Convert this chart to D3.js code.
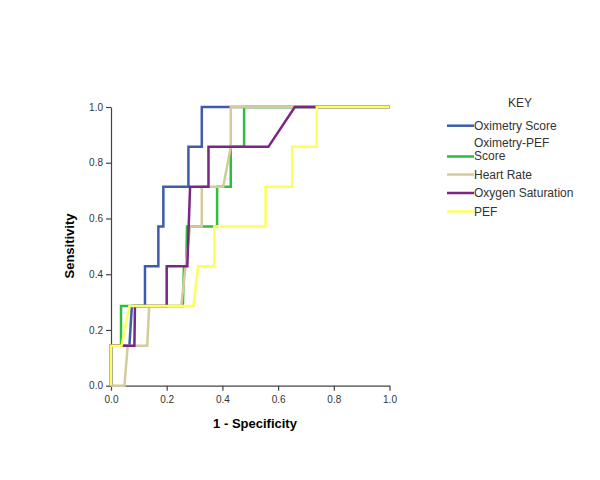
<!DOCTYPE html>
<html>
<head>
<meta charset="utf-8">
<script src="https://cdn.jsdelivr.net/npm/d3@7"></script>
<style>
  body { margin: 0; background: #fff; }
  text { font-family: "Liberation Sans", Arial, sans-serif; }
</style>
</head>
<body>
<div id="app"></div>
<script>
const seriesNames = ["Oximetry Score", "Oximetry-PEF Score", "Heart Rate", "Oxygen Saturation", "PEF"];
const seriesColors = ["#3f5bad", "#2fbd3e", "#d3cb9c", "#7a2683", "#ffff5c"];

// [1 - specificity, sensitivity] points
const oximetryScore = [[0,0],[0,0.143],[0.066,0.143],[0.075,0.286],[0.122,0.286],[0.122,0.429],[0.17,0.429],[0.17,0.571],[0.188,0.571],[0.188,0.714],[0.278,0.714],[0.278,0.857],[0.326,0.857],[0.326,1],[1,1]];
const oximetryPefScore = [[0,0],[0,0.143],[0.036,0.143],[0.036,0.286],[0.258,0.286],[0.262,0.429],[0.27,0.429],[0.273,0.571],[0.381,0.571],[0.381,0.714],[0.43,0.714],[0.43,0.857],[0.478,0.857],[0.478,1],[1,1]];
const heartRate = [[0,0],[0.048,0],[0.06,0.143],[0.13,0.143],[0.137,0.286],[0.252,0.286],[0.284,0.571],[0.326,0.571],[0.326,0.714],[0.403,0.714],[0.43,0.857],[0.43,1],[1,1]];
const oxygenSaturation = [[0,0],[0,0.143],[0.084,0.143],[0.086,0.286],[0.2,0.286],[0.2,0.429],[0.274,0.429],[0.284,0.714],[0.35,0.714],[0.35,0.857],[0.565,0.857],[0.66,1],[1,1]];
const pef = [[0,0],[0,0.143],[0.038,0.143],[0.066,0.286],[0.296,0.286],[0.313,0.429],[0.371,0.429],[0.371,0.571],[0.555,0.571],[0.555,0.714],[0.651,0.714],[0.651,0.857],[0.739,0.857],[0.739,1],[1,1]];

const seriesData = [oximetryScore, oximetryPefScore, heartRate, oxygenSaturation, pef];
const ticks = [0, 0.2, 0.4, 0.6, 0.8, 1.0];

const svg = d3.select("#app").append("svg")
  .attr("width", 600)
  .attr("height", 480);

const x = d3.scaleLinear().domain([0, 1]).range([111, 389.5]);
const y = d3.scaleLinear().domain([0, 1]).range([385.7, 107]);

// axes
const xAxis = svg.append("g")
  .attr("transform", "translate(0,385.7)")
  .call(d3.axisBottom(x).tickValues(ticks).tickFormat(d3.format(".1f")).tickSize(5).tickSizeOuter(0));
const yAxis = svg.append("g")
  .attr("transform", "translate(111,0)")
  .call(d3.axisLeft(y).tickValues(ticks).tickFormat(d3.format(".1f")).tickSize(5).tickSizeOuter(0));

[xAxis, yAxis].forEach(a => {
  a.select(".domain").attr("stroke", "#444").attr("stroke-width", 1.2);
  a.selectAll(".tick line").attr("stroke", "#444").attr("stroke-width", 1.2);
  a.selectAll(".tick text")
    .attr("fill", "#333")
    .style("font-size", "10px")
    .style("font-family", "'Liberation Sans', Arial, sans-serif");
});
xAxis.selectAll(".tick text").attr("dy", "0.9em");

svg.append("text")
  .attr("x", 255).attr("y", 428)
  .attr("text-anchor", "middle")
  .style("font-size", "13px").style("font-weight", "bold")
  .text("1 - Specificity");

svg.append("text")
  .attr("transform", "translate(74,246) rotate(-90)")
  .attr("text-anchor", "middle")
  .style("font-size", "13px").style("font-weight", "bold")
  .text("Sensitivity");

// curves
const line = d3.line().x(d => x(d[0])).y(d => y(d[1]));
svg.selectAll("path.roc")
  .data(seriesData)
  .enter()
  .append("path")
  .attr("class", "roc")
  .attr("d", line)
  .attr("fill", "none")
  .attr("stroke", (d, i) => seriesColors[i])
  .attr("stroke-width", 2.5)
  .attr("stroke-linejoin", "miter");

// legend
svg.append("text")
  .attr("x", 520).attr("y", 107)
  .attr("text-anchor", "middle")
  .attr("fill", "#333")
  .style("font-size", "12px")
  .text("KEY");

const legendY = [125.7, 156.5, 174.5, 193, 211.5];
const legend = svg.selectAll("g.key")
  .data(seriesNames)
  .enter()
  .append("g")
  .attr("class", "key")
  .attr("transform", (d, i) => `translate(447,${legendY[i]})`);

legend.append("line")
  .attr("x1", 0).attr("x2", 27)
  .attr("stroke", (d, i) => seriesColors[i])
  .attr("stroke-width", 2.5);

legend.append("text")
  .attr("x", 27)
  .attr("fill", "#333")
  .style("font-size", "12px")
  .each(function (d) {
    const t = d3.select(this);
    if (d === "Oximetry-PEF Score") {
      t.append("tspan").attr("x", 27).attr("y", -10).text("Oximetry-PEF");
      t.append("tspan").attr("x", 27).attr("y", 3.8).text("Score");
    } else {
      t.attr("y", 4).text(d);
    }
  });
</script>
</body>
</html>
